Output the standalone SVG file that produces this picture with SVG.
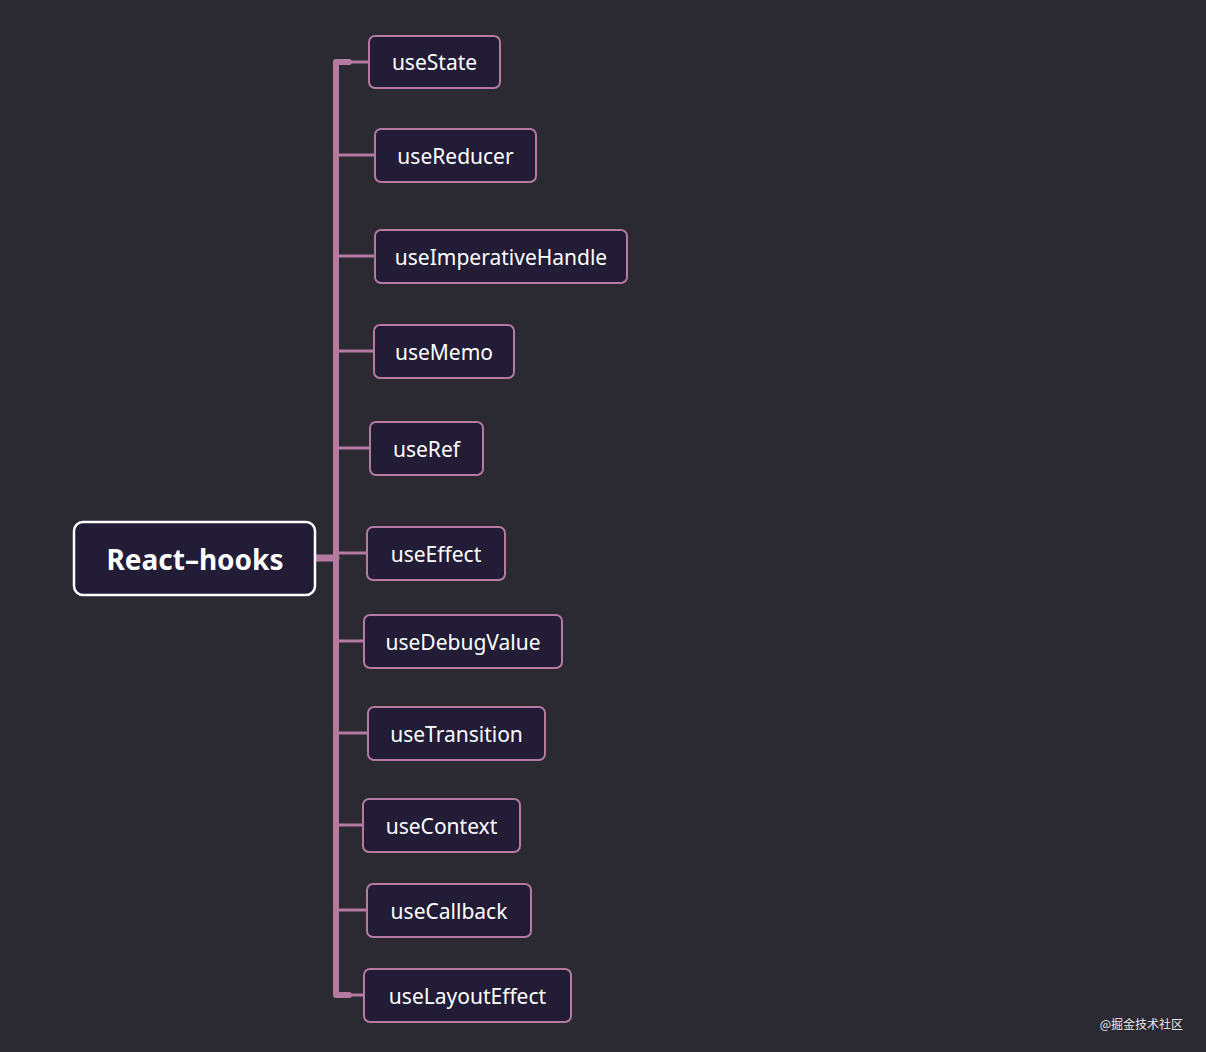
<svg xmlns="http://www.w3.org/2000/svg" width="1206" height="1052" viewBox="0 0 1206 1052">
<style>
.n rect{fill:#221c36;stroke:#b47a9f;stroke-width:2}
.n text{fill:#ffffff;font-family:"Noto Sans","Liberation Sans",sans-serif;font-size:21px;text-anchor:middle;dominant-baseline:central}
.c path{fill:none;stroke:#b47a9f;stroke-linecap:round}
</style>
<rect width="1206" height="1052" fill="#2b2932"/>
<g class="c">
<path d="M315 558 H336" stroke-width="7"/>
<path d="M349 62 H336 V995 H349" stroke-width="6" stroke-linejoin="round"/>
<path d="M336 155 H375 M336 256 H375 M336 351 H374 M336 448 H370 M336 553 H367 M336 641 H364 M336 733 H368 M336 825 H363 M336 910 H367 M336 995 H364 M336 62 H369" stroke-width="3"/>
</g>
<g id="root" class="n"><rect x="74" y="522" width="241" height="73" rx="9" fill="#221c36" style="stroke:#fff;stroke-width:2.5"/><text x="195" y="559" style="font-size:28px;font-weight:bold">React–hooks</text></g>
<g id="n1" class="n"><rect x="369" y="36" width="131" height="52" rx="6"/><text x="434.5" y="62">useState</text></g>
<g id="n2" class="n"><rect x="375" y="129" width="161" height="53" rx="6"/><text x="455.5" y="155.5">useReducer</text></g>
<g id="n3" class="n"><rect x="375" y="230" width="252" height="53" rx="6"/><text x="501" y="256.5">useImperativeHandle</text></g>
<g id="n4" class="n"><rect x="374" y="325" width="140" height="53" rx="6"/><text x="444" y="351.5">useMemo</text></g>
<g id="n5" class="n"><rect x="370" y="422" width="113" height="53" rx="6"/><text x="426.5" y="448.5">useRef</text></g>
<g id="n6" class="n"><rect x="367" y="527" width="138" height="53" rx="6"/><text x="436" y="553.5">useEffect</text></g>
<g id="n7" class="n"><rect x="364" y="615" width="198" height="53" rx="6"/><text x="463" y="641.5">useDebugValue</text></g>
<g id="n8" class="n"><rect x="368" y="707" width="177" height="53" rx="6"/><text x="456.5" y="733.5">useTransition</text></g>
<g id="n9" class="n"><rect x="363" y="799" width="157" height="53" rx="6"/><text x="441.5" y="825.5">useContext</text></g>
<g id="n10" class="n"><rect x="367" y="884" width="164" height="53" rx="6"/><text x="449" y="910.5">useCallback</text></g>
<g id="n11" class="n"><rect x="364" y="969" width="207" height="53" rx="6"/><text x="467.5" y="995.5">useLayoutEffect</text></g>
<text x="1183" y="1029" fill="#e8e8e8" font-family="'Noto Sans CJK SC',sans-serif" font-size="12" text-anchor="end">@掘金技术社区</text>
</svg>
